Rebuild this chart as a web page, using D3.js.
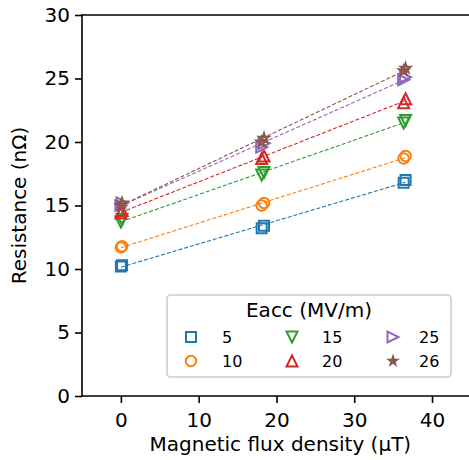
<!DOCTYPE html>
<html><head><meta charset="utf-8">
<script src="https://cdn.jsdelivr.net/npm/d3@7"></script>
<style>body{margin:0;background:#fff}svg{display:block;font-family:"DejaVu Sans",sans-serif}</style>
</head><body><svg id="c" width="469" height="460"></svg>
<script>
// x positions of the repeated measurements (µT)
const fieldX = [0, 0.15, 18.1, 18.4, 36.35, 36.6];
const eaccLabels = ["5", "10", "15", "20", "25", "26"];
const r5  = [10.2, 10.3, 13.2, 13.4, 16.8, 17.0];
const r10 = [11.7, 11.8, 15.0, 15.2, 18.7, 18.9];
const r15 = [13.7, 13.9, 17.4, 17.6, 21.5, 21.7];
const r20 = [14.4, 14.6, 18.7, 18.9, 23.1, 23.4];
const r25 = [15.0, 15.2, 19.6, 19.9, 24.9, 25.1];
const r26 = [15.0, 15.2, 20.0, 20.3, 25.6, 25.8];
const xTicks = [0, 10, 20, 30, 40];
const yTicks = [0, 5, 10, 15, 20, 25, 30];

const seriesVals = [r5, r10, r15, r20, r25, r26];
const colors = ["#1f77b4", "#ff7f0e", "#2ca02c", "#d62728", "#9467bd", "#8c564b"];
const markers = ["square", "circle", "tdown", "tup", "tright", "star"];

const svg = d3.select("#c");
const L = 82, R = 478.7, T = 15, B = 396;
const x = d3.scaleLinear().domain([-5, 46]).range([L, R]);
const y = d3.scaleLinear().domain([0, 30]).range([B, T]);

function markerPath(type, s) {
  const h = s / 2;
  if (type === "square") return `M${-h},${-h}H${h}V${h}H${-h}Z`;
  if (type === "circle") return d3.symbol(d3.symbolCircle, Math.PI * h * h)();
  if (type === "tup") return `M0,${-h}L${h},${h}L${-h},${h}Z`;
  if (type === "tdown") return `M0,${h}L${h},${-h}L${-h},${-h}Z`;
  if (type === "tright") return `M${h},0L${-h},${h}L${-h},${-h}Z`;
  if (type === "star") {
    const pts = [];
    for (let i = 0; i < 10; i++) {
      const rr = i % 2 === 0 ? h : h * 0.381966;
      const a = -Math.PI / 2 + i * Math.PI / 5;
      pts.push([rr * Math.cos(a), rr * Math.sin(a)]);
    }
    return "M" + pts.map(p => p.join(",")).join("L") + "Z";
  }
}
const msize = {square: 10, circle: 10.5, tdown: 11, tup: 11, tright: 11, star: 10};

// axes
const gx = svg.append("g").attr("transform", `translate(0,${B})`)
  .call(d3.axisBottom(x).tickValues(xTicks).tickSize(7).tickPadding(5).tickFormat(d3.format("d")));
const gy = svg.append("g").attr("transform", `translate(${L},0)`)
  .call(d3.axisLeft(y).tickValues(yTicks).tickSize(7).tickPadding(5).tickFormat(d3.format("d")));
[gx, gy].forEach(g => {
  g.selectAll("text").attr("font-size", 20).attr("fill", "#000").attr("font-family", "DejaVu Sans");
  g.selectAll("line").attr("stroke", "#000").attr("stroke-width", 1.6);
  g.select(".domain").remove();
});
gx.selectAll("text").attr("dy", "0.95em");
svg.append("line").attr("x1", L).attr("x2", 469).attr("y1", T).attr("y2", T).attr("stroke", "#000").attr("stroke-width", 1.6);
svg.append("line").attr("x1", L).attr("x2", 469).attr("y1", B).attr("y2", B).attr("stroke", "#000").attr("stroke-width", 1.6);
svg.append("line").attr("x1", L).attr("x2", L).attr("y1", T - 0.8).attr("y2", B + 0.8).attr("stroke", "#000").attr("stroke-width", 1.6);

// fits + markers
seriesVals.forEach((vals, i) => {
  const n = vals.length;
  const mx = d3.mean(fieldX), my = d3.mean(vals);
  let sxy = 0, sxx = 0;
  for (let k = 0; k < n; k++) { sxy += (fieldX[k] - mx) * (vals[k] - my); sxx += (fieldX[k] - mx) ** 2; }
  const slope = sxy / sxx, icpt = my - slope * mx;
  const x0 = d3.min(fieldX), x1 = d3.max(fieldX);
  svg.append("line")
    .attr("x1", x(x0)).attr("y1", y(icpt + slope * x0))
    .attr("x2", x(x1)).attr("y2", y(icpt + slope * x1))
    .attr("stroke", colors[i]).attr("stroke-width", 1.1).attr("stroke-dasharray", "4,2");
});
seriesVals.forEach((vals, i) => {
  svg.append("g").selectAll("path").data(vals).join("path")
    .attr("transform", (d, k) => `translate(${x(fieldX[k])},${y(d)})`)
    .attr("d", markerPath(markers[i], msize[markers[i]]))
    .attr("fill", "none").attr("stroke", colors[i]).attr("stroke-width", 2);
});

// axis labels
svg.append("text").attr("x", (L + R) / 2).attr("y", 451).attr("text-anchor", "middle")
  .attr("font-size", 20).text("Magnetic flux density (µT)");
svg.append("text").attr("transform", `translate(26,${(T + B) / 2}) rotate(-90)`).attr("text-anchor", "middle")
  .attr("font-size", 20).text("Resistance (nΩ)");

// legend
const lg = svg.append("g");
lg.append("rect").attr("x", 167).attr("y", 295).attr("width", 284).attr("height", 82).attr("rx", 4)
  .attr("fill", "#fff").attr("fill-opacity", 0.8).attr("stroke", "#cccccc").attr("stroke-width", 1.6);
lg.append("text").attr("x", 309).attr("y", 317).attr("text-anchor", "middle").attr("font-size", 20).text("Eacc (MV/m)");
const colX = [191, 292, 393], labX = [222, 322, 419], rowY = [337, 361];
eaccLabels.forEach((lab, i) => {
  const c = Math.floor(i / 2), r = i % 2;
  lg.append("path").attr("transform", `translate(${colX[c]},${rowY[r]})`)
    .attr("d", markerPath(markers[i], msize[markers[i]] * (markers[i] === "star" ? 0.7 : 1)))
    .attr("fill", "none").attr("stroke", colors[i]).attr("stroke-width", markers[i] === "star" ? 2.4 : 2);
  lg.append("text").attr("x", labX[c]).attr("y", rowY[r] + 6).attr("font-size", 16).text(lab);
});
</script></body></html>
